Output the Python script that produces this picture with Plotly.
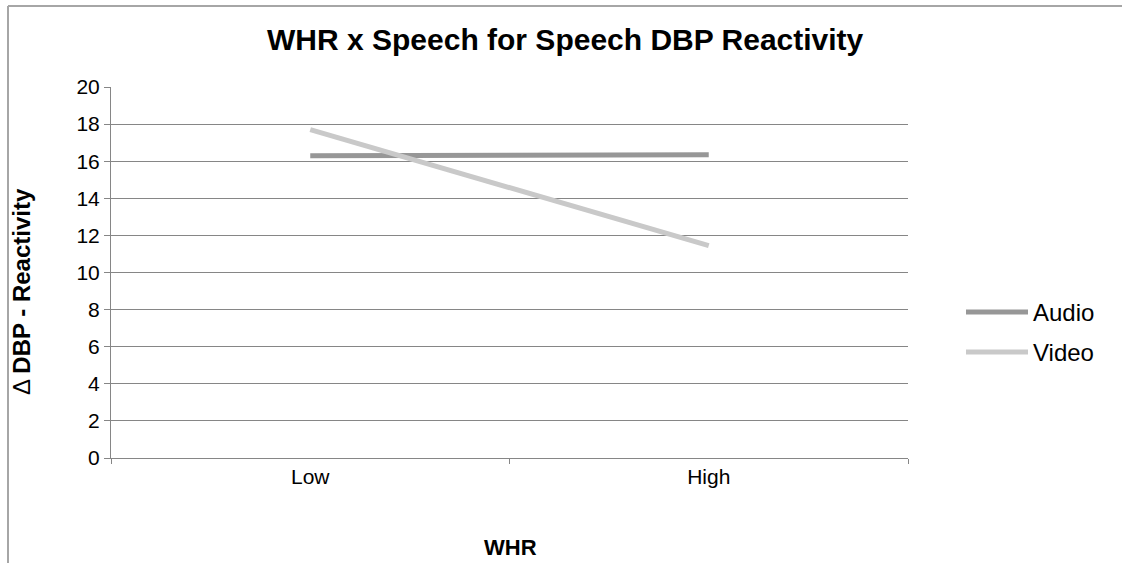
import plotly.graph_objects as go

categories = ["Low", "High"]
audio = [16.3, 16.35]
video = [17.7, 11.45]
series_names = ["Audio", "Video"]
series_colors = ["#979797", "#c9c9c9"]
y_ticks = list(range(0, 21, 2))

W, H = 1122, 563
L, R, T, B = 111, 908, 87, 458
FONT = "Liberation Sans, Arial"


def px(x):
    return (x - L) / (R - L)


def py(y):
    return (B - y) / (B - T)


fig = go.Figure()
for name, vals, col in zip(series_names, [audio, video], series_colors):
    fig.add_trace(go.Scatter(x=categories, y=vals, mode="lines", name=name,
                             line=dict(color=col, width=5), showlegend=False))

# custom legend
for i, (name, col) in enumerate(zip(series_names, series_colors)):
    yy = 312 + i * 40
    fig.add_shape(type="line", xref="paper", yref="paper",
                  x0=px(966), x1=px(1028), y0=py(yy), y1=py(yy),
                  line=dict(color=col, width=5))
    fig.add_annotation(xref="paper", yref="paper", x=px(1031), y=py(yy),
                       text=name, showarrow=False, xanchor="left", yanchor="middle",
                       font=dict(family=FONT, size=24, color="#000000"))

# chart border (left and top)
fig.add_shape(type="line", xref="paper", yref="paper",
              x0=px(8), x1=px(1122), y0=py(6), y1=py(6),
              line=dict(color="#a6a6a6", width=2))
fig.add_shape(type="line", xref="paper", yref="paper",
              x0=px(8), x1=px(8), y0=py(6), y1=py(563),
              line=dict(color="#a6a6a6", width=2))

fig.add_annotation(xref="paper", yref="paper", x=px(565), y=py(40),
                   text="<b>WHR x Speech for Speech DBP Reactivity</b>", showarrow=False,
                   xanchor="center", yanchor="middle",
                   font=dict(family=FONT, size=30, color="#000000"))
fig.add_annotation(xref="paper", yref="paper", x=px(510), y=py(547),
                   text="<b>WHR</b>", showarrow=False, xanchor="center", yanchor="middle",
                   font=dict(family=FONT, size=22, color="#000000"))
fig.add_annotation(xref="paper", yref="paper", x=px(21), y=py(292),
                   text="Δ <b>DBP - Reactivity</b>", showarrow=False, textangle=-90,
                   xanchor="center", yanchor="middle",
                   font=dict(family=FONT, size=24, color="#000000"))

fig.update_layout(
    width=W, height=H,
    margin=dict(l=L, r=W - R, t=T, b=H - B),
    paper_bgcolor="white", plot_bgcolor="white",
    font=dict(family=FONT, size=21, color="#000000"),
    showlegend=False,
)
fig.update_xaxes(type="category", range=[-0.5, 1.5], showline=True, linecolor="#868686",
                 linewidth=1, showgrid=False, ticks="outside", ticklen=5,
                 tickcolor="#868686", tickson="boundaries", tickfont=dict(size=21),
                 zeroline=False)
fig.update_yaxes(range=[0, 20], tickvals=y_ticks, showline=True, linecolor="#868686",
                 linewidth=1, showgrid=True, gridcolor="#868686", gridwidth=1,
                 ticks="outside", ticklen=6, tickcolor="#868686", tickfont=dict(size=21),
                 zeroline=False)

fig.write_html("out.html", config={"displayModeBar": False},
               post_script="document.body.style.margin='0';document.body.style.overflow='hidden';")
